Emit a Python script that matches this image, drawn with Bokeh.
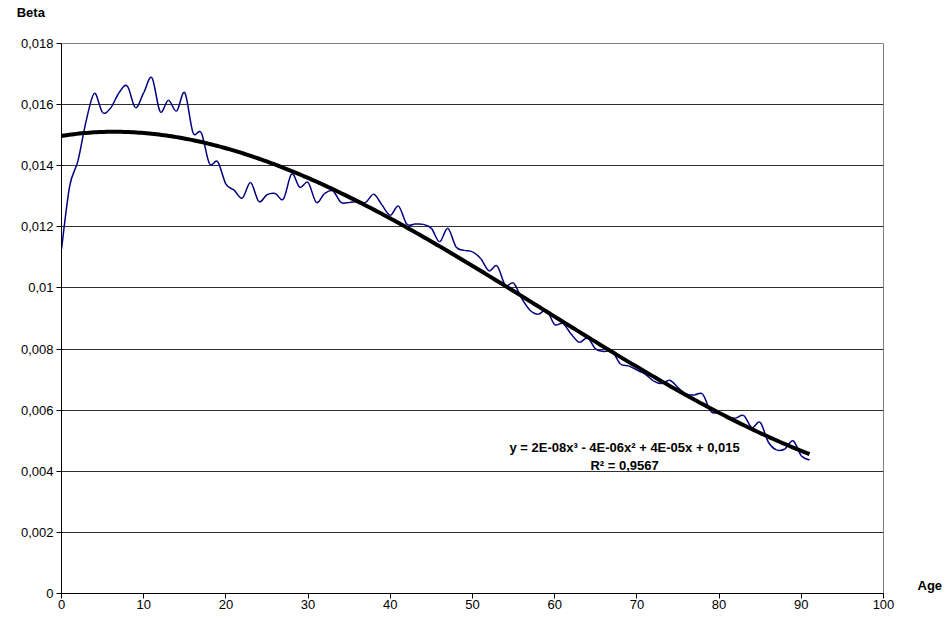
import numpy as np
from bokeh.plotting import figure
from bokeh.models import Label, FixedTicker, LinearAxis
from bokeh.embed import file_html
from bokeh.resources import INLINE

# ---- data ----
ages = list(range(0, 92))
beta = [
    0.01127, 0.01334, 0.01416, 0.01547, 0.01637, 0.01574, 0.01590, 0.01639, 0.01661, 0.01590,
    0.01639, 0.01688, 0.01577, 0.01614, 0.01579, 0.01639, 0.01508, 0.01508, 0.01407, 0.01413,
    0.01340, 0.01320, 0.01294, 0.01345, 0.01283, 0.01305, 0.01309, 0.01291, 0.01373, 0.01329,
    0.01345, 0.01280, 0.01309, 0.01318, 0.01280, 0.01280, 0.01282, 0.01280, 0.01307, 0.01271,
    0.01238, 0.01268, 0.01209, 0.01209, 0.01208, 0.01195, 0.01151, 0.01195, 0.01134, 0.01123,
    0.01118, 0.01096, 0.01056, 0.01072, 0.01009, 0.01016, 0.00965, 0.00927, 0.00914, 0.00927,
    0.00880, 0.00884, 0.00849, 0.00822, 0.00836, 0.00800, 0.00792, 0.00792, 0.00751, 0.00745,
    0.00731, 0.00718, 0.00696, 0.00687, 0.00698, 0.00674, 0.00652, 0.00650, 0.00652, 0.00596,
    0.00590, 0.00578, 0.00574, 0.00582, 0.00543, 0.00560, 0.00495, 0.00470, 0.00473, 0.00500,
    0.00451, 0.00437,
]
x_ticks = [0, 10, 20, 30, 40, 50, 60, 70, 80, 90, 100]
y_ticks = [0, 0.002, 0.004, 0.006, 0.008, 0.01, 0.012, 0.014, 0.016, 0.018]
y_tick_labels = ["0", "0,002", "0,004", "0,006", "0,008", "0,01", "0,012", "0,014", "0,016", "0,018"]
x_title = "Age"
y_title = "Beta"
equation_text = "y = 2E-08x\u00b3 - 4E-06x\u00b2 + 4E-05x + 0,015"
r2_text = "R\u00b2 = 0,9567"

FONT = "Liberation Sans"

p = figure(width=945, height=619, x_range=(0, 100), y_range=(0, 0.018),
           output_backend="svg", toolbar_location=None,
           min_border_left=61, min_border_right=61, min_border_top=43, min_border_bottom=26)
p.background_fill_color = "white"
p.border_fill_color = "white"
p.outline_line_color = "#808080"
p.outline_line_width = 1

# smoothed data line (Catmull-Rom style bezier segments like Excel's smoothed line)
xa = np.array(ages, dtype=float)
ya = np.array(beta, dtype=float)
x0 = xa[:-1]; y0 = ya[:-1]
x1 = xa[1:]; y1 = ya[1:]
xp = np.concatenate([[xa[0]], xa[:-2]]); yp = np.concatenate([[ya[0]], ya[:-2]])
xn = np.concatenate([xa[2:], [xa[-1]]]); yn = np.concatenate([ya[2:], [ya[-1]]])
cx0 = x0 + (x1 - xp) / 6.0
cy0 = y0 + (y1 - yp) / 6.0
cx1 = x1 - (xn - x0) / 6.0
cy1 = y1 - (yn - y0) / 6.0
p.bezier(x0=x0, y0=y0, x1=x1, y1=y1, cx0=cx0, cy0=cy0, cx1=cx1, cy1=cy1,
         line_color="#000080", line_width=1.5)

# cubic trend line fitted to the data
coef = np.polyfit(xa, ya, 3)
tx = np.linspace(xa[0], xa[-1], 300)
ty = np.polyval(coef, tx)
p.line(tx, ty, line_color="black", line_width=4)

# axes
for ax in (p.xaxis[0], p.yaxis[0]):
    ax.axis_line_color = "black"
    ax.axis_line_width = 1
    ax.major_tick_line_color = "black"
    ax.major_tick_out = 5
    ax.major_tick_in = 0
    ax.minor_tick_line_color = None
    ax.major_label_text_font = FONT
    ax.major_label_text_font_size = "13px"
    ax.major_label_text_color = "black"

p.xaxis.ticker = FixedTicker(ticks=x_ticks)
p.xaxis.major_label_standoff = 1
p.yaxis.ticker = FixedTicker(ticks=y_ticks)
p.yaxis.major_label_overrides = {t: s for t, s in zip(y_ticks, y_tick_labels)}
p.yaxis.major_label_standoff = 3

p.xgrid.grid_line_color = None
p.ygrid.grid_line_color = "#303030"
p.ygrid.grid_line_width = 1

def title_axis(pos, text, standoff):
    return LinearAxis(ticker=FixedTicker(ticks=[pos]),
                      major_label_overrides={pos: text},
                      axis_line_color=None, major_tick_line_color=None,
                      minor_tick_line_color=None, major_tick_out=0, major_tick_in=0,
                      major_label_standoff=standoff, major_label_text_font=FONT,
                      major_label_text_font_size="13px", major_label_text_font_style="bold",
                      major_label_text_color="black")

# "Age" at the lower right, outside the frame (bare right-hand axis with one labelled tick)
p.add_layout(title_axis(0.00026, x_title, 34), "right")
# "Beta" at the top left, above the frame (bare top axis; label padded so it sits left of x=0)
p.add_layout(title_axis(0, y_title + "\u00a0" * 17, 24), "above")

# equation texts
common = dict(text_font=FONT, text_font_style="bold", text_color="black",
              text_baseline="middle")
p.add_layout(Label(x=68.5, y=0.00479, text=equation_text, text_font_size="13px",
                   text_align="center", **common))
p.add_layout(Label(x=68.5, y=0.00419, text=r2_text, text_font_size="13px",
                   text_align="center", **common))

open("out.html", "w").write(file_html(p, INLINE))
